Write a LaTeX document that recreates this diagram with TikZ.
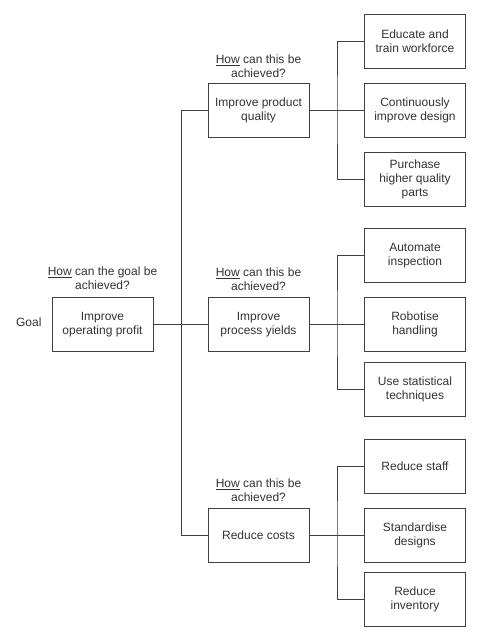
\documentclass[tikz,border=0pt]{standalone}
\usepackage{fontspec}
\setmainfont{Liberation Sans}
\usetikzlibrary{shapes, arrows}

\begin{document}
\begin{tikzpicture}[x=1pt, y=-1pt,
	box/.style={draw=black!75, line width=0.9pt, fill=white,
		minimum width=101pt, minimum height=54pt, inner sep=1pt,
		align=center, font=\fontsize{12}{14}\selectfont, text=black!80},
	howlabel/.style={align=center, font=\fontsize{12}{14}\selectfont, text=black!80},
	link/.style={draw=black!75, line width=0.9pt},
	]
	\useasboundingbox[fill=white] (0,0) rectangle (480,640);
	% goal
	\node[box] (goal) at (102.5,324.5) {Improve\\operating profit};
	\node[howlabel, anchor=east] (goaltag) at (45,322) {Goal};
	\node[howlabel] (howgoal) at (102.5,278) {\underline{How} can the goal be\\achieved?};
	% second level
	\node[box] (quality) at (258.5,110) {Improve product\\quality};
	\node[box] (yields) at (258.5,324.5) {Improve\\process yields};
	\node[box] (costs) at (258.5,535) {Reduce costs};
	\node[howlabel] (howquality) at (258.5,66.5) {\underline{How} can this be\\achieved?};
	\node[howlabel] (howyields) at (258.5,279) {\underline{How} can this be\\achieved?};
	\node[howlabel] (howcosts) at (258.5,490) {\underline{How} can this be\\achieved?};
	% third level
	\node[box] (educate) at (415,41.5) {Educate and\\train workforce};
	\node[box] (design) at (415,110) {Continuously\\improve design};
	\node[box] (parts) at (415,179) {Purchase\\higher quality\\parts};
	\node[box] (inspect) at (415,255.5) {Automate\\inspection};
	\node[box] (robot) at (415,324.5) {Robotise\\handling};
	\node[box] (stats) at (415,389) {Use statistical\\techniques};
	\node[box] (staff) at (415,466.5) {Reduce staff};
	\node[box] (standard) at (415,535) {Standardise\\designs};
	\node[box] (stock) at (415,599) {Reduce\\inventory};
	% branch points
	\coordinate (trunk) at (181.5,324.5);
	\coordinate (splitq) at (337,110);
	\coordinate (splity) at (337,324.5);
	\coordinate (splitc) at (337,535);
	\path[link]
	(goal.east) -- (yields.west)
	(quality.west) -| (trunk) |- (costs.west)
	(quality.east) -- (design.west)
	(educate.west) -| (splitq) |- (parts.west)
	(yields.east) -- (robot.west)
	(inspect.west) -| (splity) |- (stats.west)
	(costs.east) -- (standard.west)
	(staff.west) -| (splitc) |- (stock.west)
	;
\end{tikzpicture}
\end{document}
